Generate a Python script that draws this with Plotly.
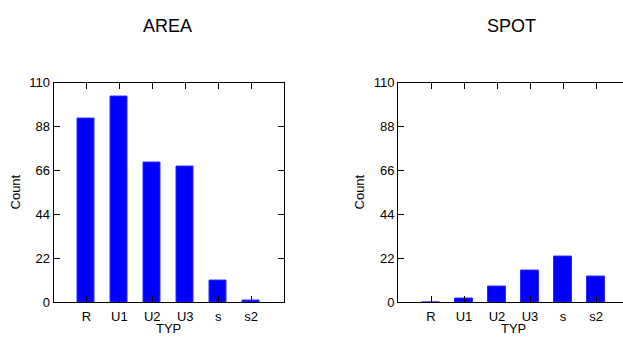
import plotly.graph_objects as go

categories = ["R", "U1", "U2", "U3", "s", "s2"]
area_counts = [92, 103, 70, 68, 11, 1]
spot_counts = [0, 2, 8, 16, 23, 13]
y_ticks = [0, 22, 44, 66, 88, 110]

W, H = 623, 342
FONT = "Liberation Sans, Arial, sans-serif"

fig = go.Figure()
fig.add_trace(go.Bar(x=categories, y=area_counts, xaxis="x", yaxis="y",
                     marker=dict(color="#0000FF", line=dict(color="#2a2aff", width=1)),
                     width=0.52, showlegend=False))
fig.add_trace(go.Bar(x=categories, y=spot_counts, xaxis="x2", yaxis="y2",
                     marker=dict(color="#0000FF", line=dict(color="#2a2aff", width=1)),
                     width=0.52, showlegend=False))

def px_x(p):
    return p / W

def px_y(p):
    return (H - p) / H

ydom = [px_y(309), px_y(79)]

common_x = dict(type="category", showline=True, linecolor="black", linewidth=1,
                ticks="inside", ticklen=6, tickcolor="black", showgrid=False,
                zeroline=False, ticklabelstandoff=2,
                tickfont=dict(family=FONT, size=13, color="black"))
common_y = dict(range=[0, 110], tickvals=y_ticks, showline=True, linecolor="black",
                linewidth=1, ticks="inside", ticklen=6, tickcolor="black",
                showgrid=False, zeroline=False,
                tickfont=dict(family=FONT, size=13, color="black"))

fig.update_layout(
    width=W, height=H, margin=dict(l=0, r=0, t=0, b=0),
    plot_bgcolor="white", paper_bgcolor="white", bargap=0,
    xaxis=dict(domain=[px_x(53.5), px_x(284)], range=[-1, 6], mirror="allticks",
               anchor="y", **common_x),
    yaxis=dict(domain=ydom, anchor="x", mirror="allticks", **common_y),
    xaxis2=dict(domain=[px_x(398), 1.0], range=[-1, -1 + (623 - 398) / 33.0],
                mirror="allticks", anchor="y2", **common_x),
    yaxis2=dict(domain=ydom, anchor="x2", mirror=False, **common_y),
)

ann = []
for text, xc in [("AREA", 167), ("SPOT", 511)]:
    ann.append(dict(text=text, x=px_x(xc), y=px_y(20), xref="paper", yref="paper",
                    showarrow=False, xanchor="center", yanchor="middle",
                    font=dict(family=FONT, size=18, color="black")))
for xc in [168, 513]:
    ann.append(dict(text="TYP", x=px_x(xc), y=px_y(336), xref="paper", yref="paper",
                    showarrow=False, xanchor="center", yanchor="middle",
                    font=dict(family=FONT, size=13, color="black")))
for xc in [15, 359]:
    ann.append(dict(text="Count", x=px_x(xc), y=px_y(194), xref="paper", yref="paper",
                    showarrow=False, xanchor="center", yanchor="middle", textangle=-90,
                    font=dict(family=FONT, size=13, color="black")))
fig.update_layout(annotations=ann)

fig.write_html("out.html")
